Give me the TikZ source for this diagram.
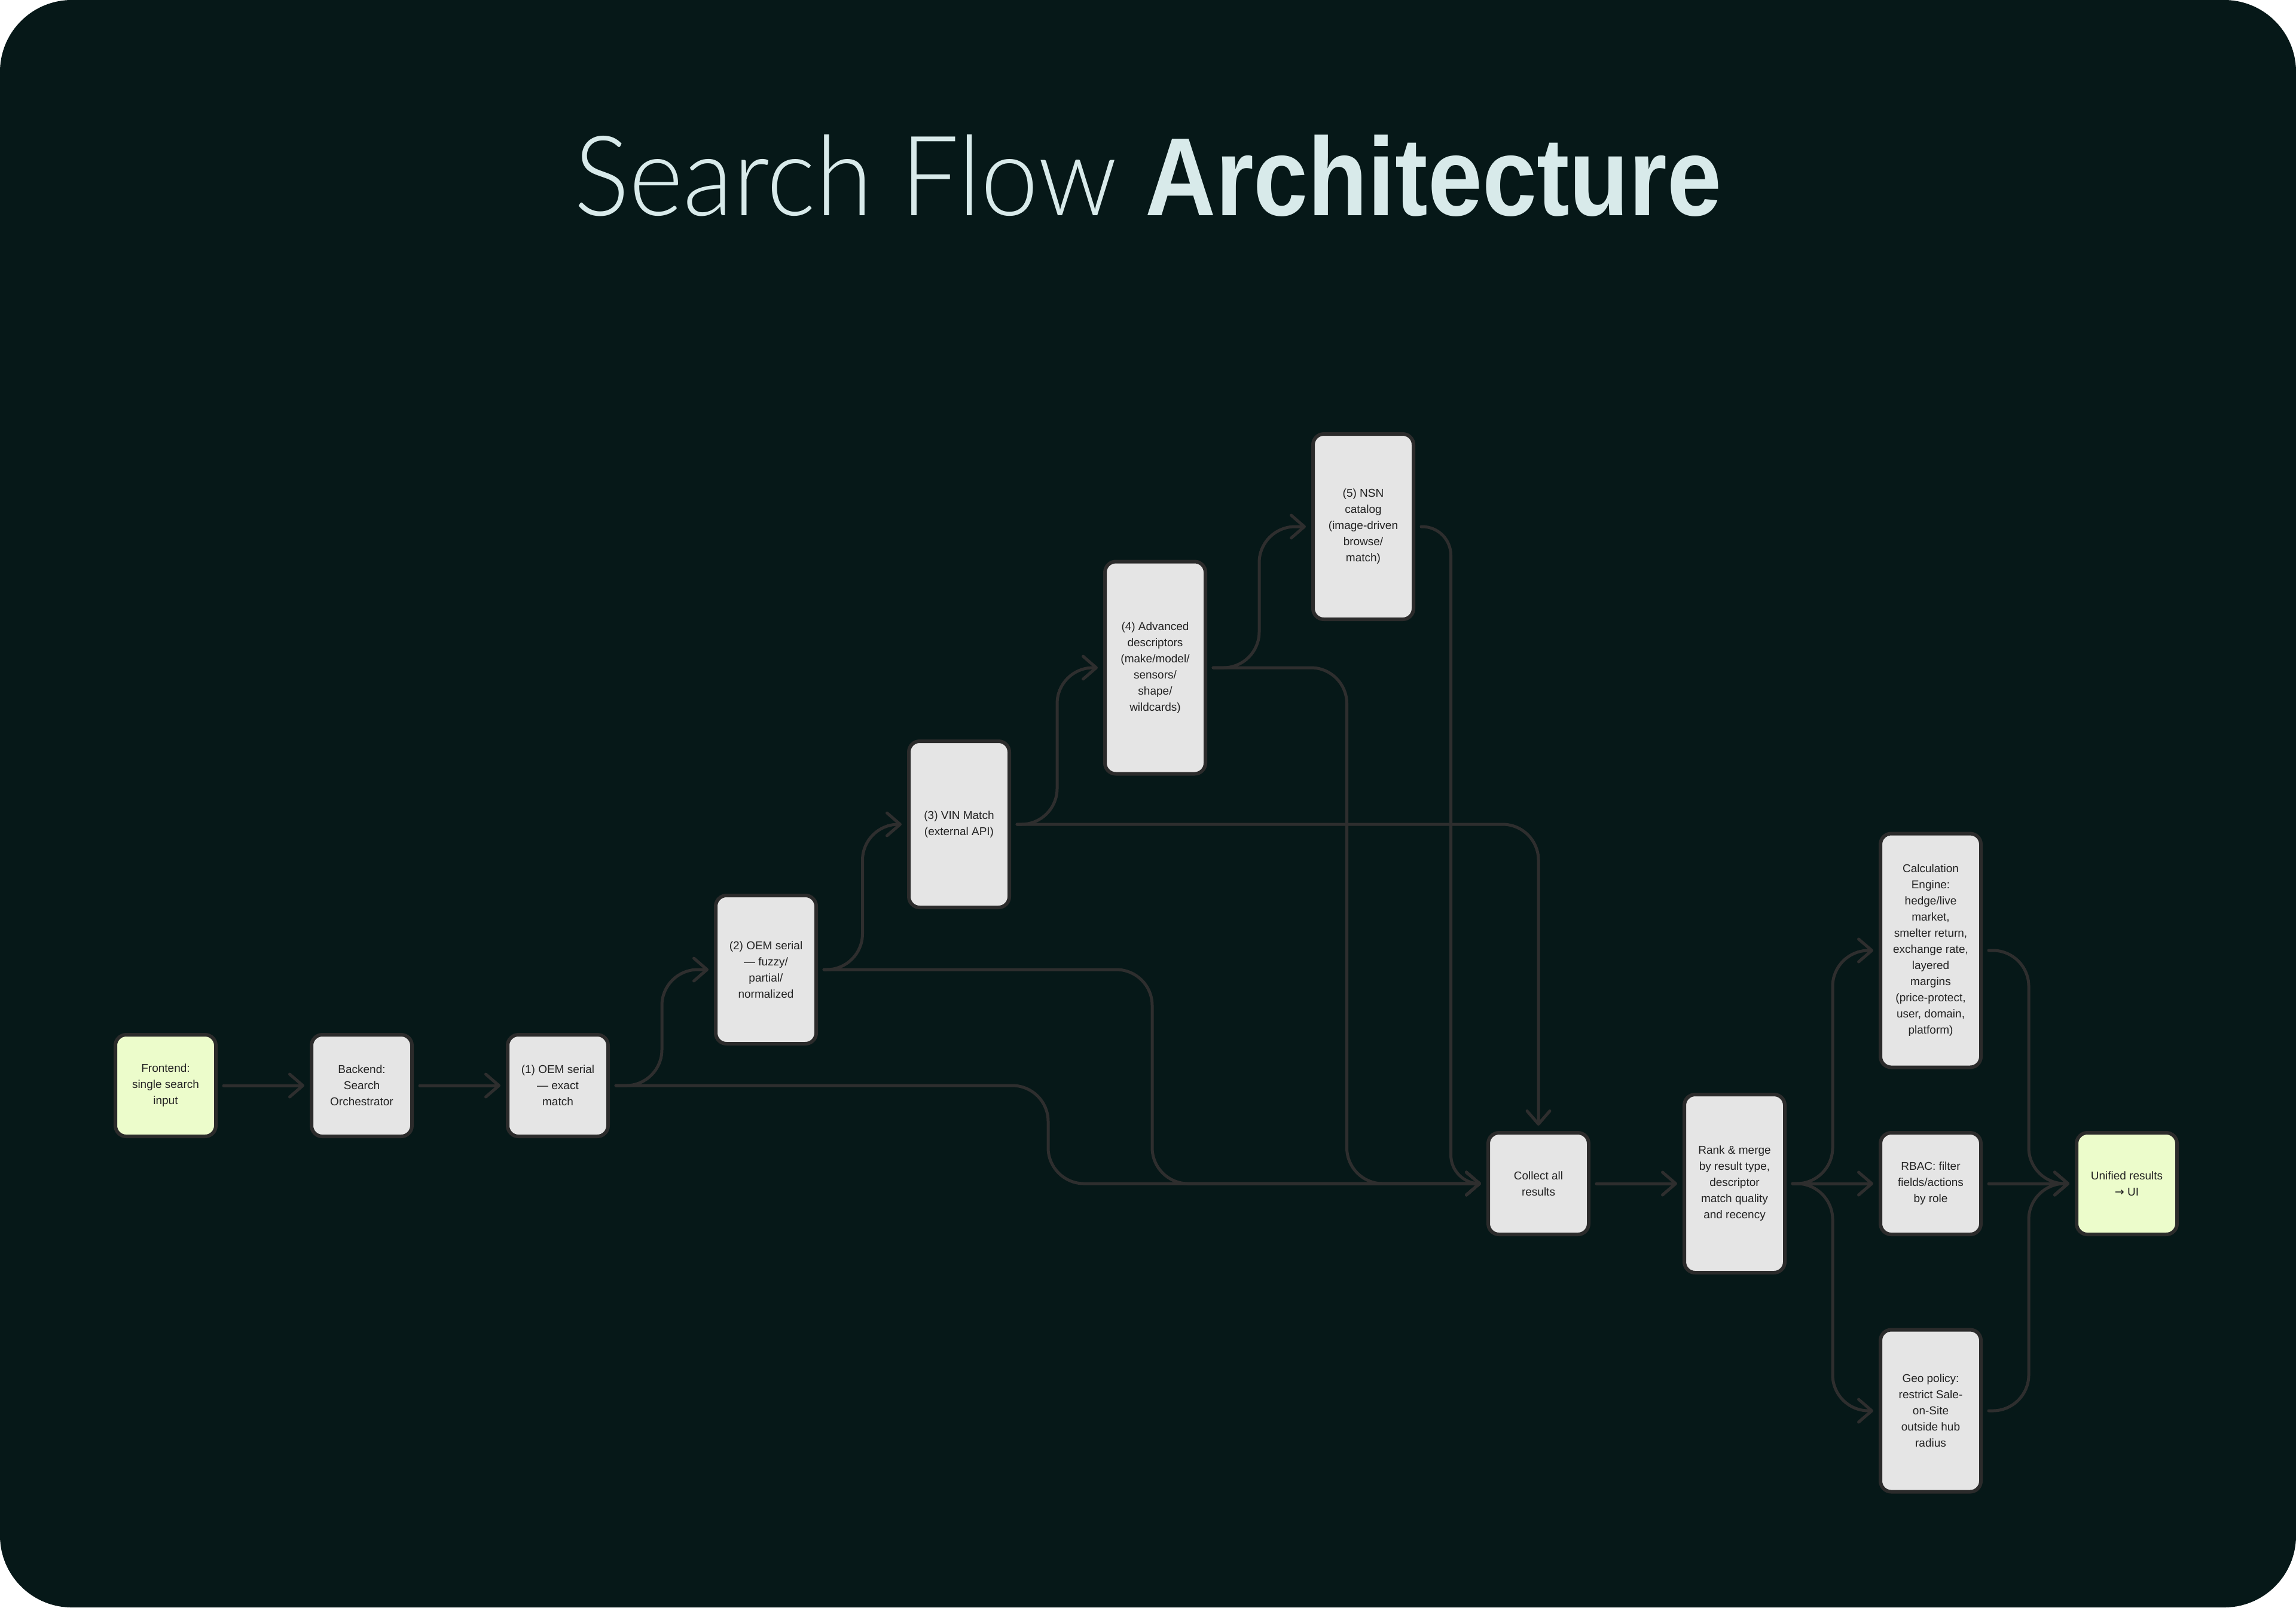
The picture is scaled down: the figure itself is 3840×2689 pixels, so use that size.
\documentclass[tikz,border=0pt]{standalone}
\usepackage{fontspec}
\setmainfont{Liberation Sans}
\newfontfamily\titlelight{Lato Light}[FakeStretch=0.93]
\newfontfamily\titlebold{Liberation Sans Bold}[FakeStretch=0.88]
\newfontfamily\symfont{DejaVu Sans}
\usetikzlibrary{arrows.meta, calc}
\definecolor{bgdark}{HTML}{061818}
\definecolor{titlecol}{HTML}{D8EAEA}
\definecolor{boxgray}{HTML}{E5E5E5}
\definecolor{limegreen}{HTML}{ECFCCB}
\definecolor{edgegray}{HTML}{2B2B2B}
\definecolor{linegray}{HTML}{2E2E2E}
\definecolor{inkgray}{HTML}{222222}
\tikzstyle{block} = [rectangle, rounded corners=9pt, minimum width=84pt, minimum height=85pt, inner sep=2pt, outer sep=0pt, text centered, align=center, draw=edgegray, line width=3pt, fill=boxgray, text=inkgray, font=\fontsize{9.5}{13.5}\selectfont]
\tikzstyle{start} = [block, fill=limegreen]
\tikzstyle{arrow} = [line width=2.5pt, draw=linegray, line cap=round, rounded corners=30pt, -{Straight Barb[length=11pt,width=19pt,round]}, shorten <=6.5pt, shorten >=6pt]

\begin{document}
\begin{tikzpicture}[x=0.5pt, y=-0.5pt, node distance=164pt]
    \fill[white] (0,0) rectangle (3840,2689);
    \fill[bgdark, rounded corners=60pt] (0,0) rectangle (3840,2689);
    \useasboundingbox (0,0) rectangle (3840,2689);

    \node(title) [anchor=base, inner sep=0pt, text=titlecol] at (1920,360) {\fontsize{93}{100}\selectfont\titlelight Search Flow \titlebold Architecture};

    \node(front) [start] at (277,1816) {Frontend:\\single search\\input};
    \node(back) [block, right of=front] {Backend:\\Search\\Orchestrator};
    \node(oem1) [block, right of=back] {(1) OEM serial\\— exact\\match};
    \node(oem2) [block, minimum height=124pt, right of=oem1, xshift=10pt, yshift=97pt] {(2) OEM serial\\— fuzzy/\\partial/\\normalized};
    \node(vin) [block, minimum height=139pt, right of=oem2, xshift=-2.5pt, yshift=121.5pt] {(3) VIN Match\\(external API)};
    \node(adv) [block, minimum height=177.5pt, right of=vin, yshift=131pt] {(4) Advanced\\descriptors\\(make/model/\\sensors/\\shape/\\wildcards)};
    \node(nsn) [block, minimum height=155pt, right of=adv, xshift=10pt, yshift=118pt] {(5) NSN\\catalog\\(image-driven\\browse/\\match)};
    \node(collect) [block, right of=nsn, xshift=-17.5pt, yshift=-549.5pt] {Collect all\\results};
    \node(rank) [block, minimum height=149pt, right of=collect] {Rank \& merge\\by result type,\\descriptor\\match quality\\and recency};
    \node(rbac) [block, right of=rank] {RBAC: filter\\fields/actions\\by role};
    \node(calc) [block, minimum height=195.5pt, right of=rank, yshift=195pt] {Calculation\\Engine:\\hedge/live\\market,\\smelter return,\\exchange rate,\\layered\\margins\\(price-protect,\\user, domain,\\platform)};
    \node(geo) [block, minimum height=135.5pt, right of=rank, yshift=-190pt] {Geo policy:\\restrict Sale-\\on-Site\\outside hub\\radius};
    \node(unified) [start, right of=rbac] {Unified results\\{\symfont →} UI};

    % bend points halfway between boxes
    \coordinate (m12) at ($(oem1.east)!.5!(oem2.west)$);
    \coordinate (m23) at ($(oem2.east)!.5!(vin.west)$);
    \coordinate (m34) at ($(vin.east)!.5!(adv.west)$);
    \coordinate (m45) at ($(adv.east)!.5!(nsn.west)$);
    \coordinate (m1c) at ($(oem1.east)!.5!(collect.west)$);
    \coordinate (m2c) at ($(oem2.east)!.5!(collect.west)$);
    \coordinate (m4c) at ($(adv.east)!.5!(collect.west)$);
    \coordinate (m5c) at ($(nsn.east)!.5!(collect.west)$);
    \coordinate (mr) at ($(rank.east)!.5!(rbac.west)$);
    \coordinate (mu) at ($(rbac.east)!.5!(unified.west)$);

    \draw[arrow] (front.east) -- (back.west);
    \draw[arrow] (back.east) -- (oem1.west);
    \draw[arrow] (oem1.east) -| (m12 |- oem2.west) -- (oem2.west);
    \draw[arrow] (oem2.east) -| (m23 |- vin.west) -- (vin.west);
    \draw[arrow] (vin.east) -| (m34 |- adv.west) -- (adv.west);
    \draw[arrow] (adv.east) -| (m45 |- nsn.west) -- (nsn.west);

    \draw[arrow] (oem1.east) -| (m1c |- collect.west) -- (collect.west);
    \draw[arrow] (oem2.east) -| (m2c |- collect.west) -- (collect.west);
    \draw[arrow] (vin.east) -| (collect.north);
    \draw[arrow] (adv.east) -| (m4c |- collect.west) -- (collect.west);
    \draw[arrow, rounded corners=24pt] (nsn.east) -| (m5c |- collect.west) -- (collect.west);

    \draw[arrow] (collect.east) -- (rank.west);
    \draw[arrow] (rank.east) -| (mr |- calc.west) -- (calc.west);
    \draw[arrow] (rank.east) -- (rbac.west);
    \draw[arrow] (rank.east) -| (mr |- geo.west) -- (geo.west);

    \draw[arrow] (calc.east) -| (mu |- unified.west) -- (unified.west);
    \draw[arrow] (rbac.east) -- (unified.west);
    \draw[arrow] (geo.east) -| (mu |- unified.west) -- (unified.west);
\end{tikzpicture}
\end{document}
